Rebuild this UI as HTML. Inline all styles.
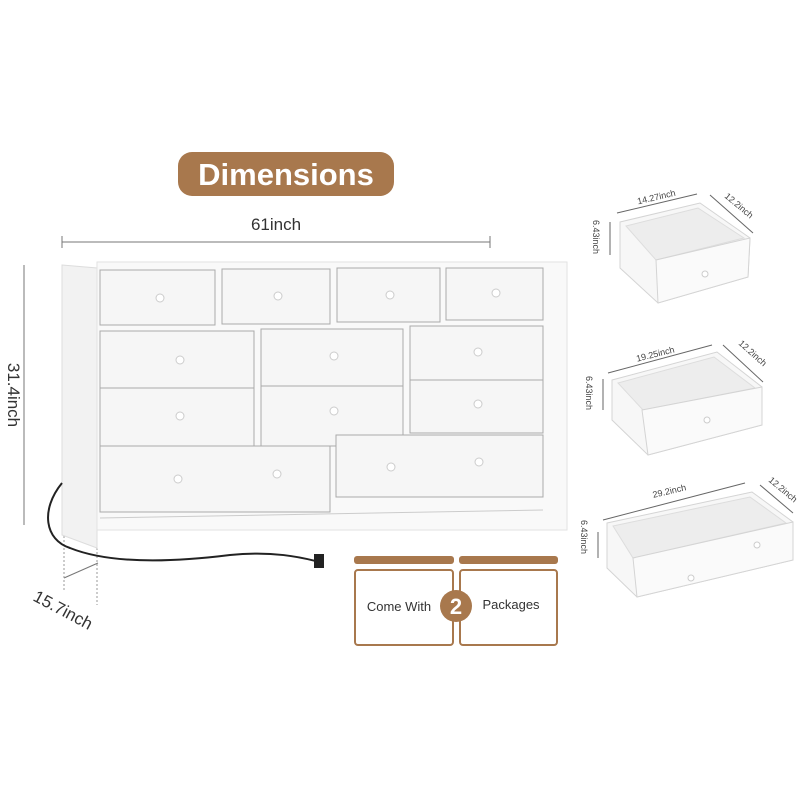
<!DOCTYPE html>
<html><head><style>
body{margin:0;background:#fff;}
svg{display:block;font-family:"Liberation Sans",sans-serif;}
</style></head><body>
<svg width="800" height="800" viewBox="0 0 800 800">
<rect width="800" height="800" fill="#fff"/>
<!-- title -->
<rect x="178" y="152" width="216" height="44" rx="14" fill="#a8784d"/>
<text x="286" y="185" font-size="31" font-weight="bold" fill="#fff" text-anchor="middle">Dimensions</text>
<text x="276" y="230" font-size="17" fill="#333" text-anchor="middle">61inch</text>
<line x1="62" y1="242" x2="490" y2="242" stroke="#777" stroke-width="1"/>
<line x1="62" y1="236" x2="62" y2="248" stroke="#777"/><line x1="490" y1="236" x2="490" y2="248" stroke="#777"/>
<!-- height -->
<line x1="24" y1="265" x2="24" y2="525" stroke="#777"/>
<text transform="translate(8,395) rotate(90)" font-size="17" fill="#333" text-anchor="middle">31.4inch</text>
<!-- depth -->
<line x1="64" y1="578" x2="98" y2="563" stroke="#777"/>
<line x1="64" y1="520" x2="64" y2="590" stroke="#999" stroke-dasharray="2,2"/>
<line x1="97" y1="520" x2="97" y2="605" stroke="#999" stroke-dasharray="2,2"/>
<text transform="translate(32,600) rotate(28)" font-size="17" fill="#333">15.7inch</text>
<!-- dresser -->
<polygon points="62,265 97,268 97,548 62,535" fill="#f2f2f2" stroke="#ddd"/>
<rect x="97" y="262" width="470" height="268" fill="#f9f9f9" stroke="#e2e2e2"/>
<g fill="#f6f6f6" stroke="#aaa" stroke-width="1">
<rect x="100" y="270" width="115" height="55"/><rect x="222" y="269" width="108" height="55"/><rect x="337" y="268" width="103" height="54"/><rect x="446" y="268" width="97" height="52"/>
<rect x="100" y="331" width="154" height="58"/><rect x="261" y="329" width="142" height="57"/><rect x="410" y="326" width="133" height="54"/>
<rect x="100" y="388" width="154" height="60"/><rect x="261" y="386" width="142" height="60"/><rect x="410" y="380" width="133" height="53"/>
<rect x="100" y="446" width="230" height="66"/><rect x="336" y="435" width="207" height="62"/>
</g>
<line x1="100" y1="518" x2="543" y2="510" stroke="#ccc"/>
<g fill="#fff" stroke="#ccc">
<circle cx="160" cy="298" r="4"/><circle cx="278" cy="296" r="4"/><circle cx="390" cy="295" r="4"/><circle cx="496" cy="293" r="4"/>
<circle cx="180" cy="360" r="4"/><circle cx="334" cy="356" r="4"/><circle cx="478" cy="352" r="4"/>
<circle cx="180" cy="416" r="4"/><circle cx="334" cy="411" r="4"/><circle cx="478" cy="404" r="4"/>
<circle cx="178" cy="479" r="4"/><circle cx="277" cy="474" r="4"/><circle cx="391" cy="467" r="4"/><circle cx="479" cy="462" r="4"/>
</g>
<!-- cord -->
<path d="M62,483 C40,510 45,540 70,548 C100,560 150,565 230,555 C280,550 310,560 320,562" fill="none" stroke="#222" stroke-width="2"/>
<rect x="314" y="554" width="10" height="14" fill="#222"/>
<!-- packages -->
<rect x="354" y="556" width="100" height="8" rx="3" fill="#a8784d"/>
<rect x="459" y="556" width="99" height="8" rx="3" fill="#a8784d"/>
<rect x="355" y="570" width="98" height="75" rx="3" fill="#fff" stroke="#a8784d" stroke-width="2"/>
<rect x="460" y="570" width="97" height="75" rx="3" fill="#fff" stroke="#a8784d" stroke-width="2"/>
<circle cx="456" cy="606" r="16" fill="#a8784d"/>
<text x="456" y="614" font-size="22" font-weight="bold" fill="#fff" text-anchor="middle">2</text>
<text x="399" y="611" font-size="13" fill="#333" text-anchor="middle">Come With</text>
<text x="511" y="609" font-size="13" fill="#333" text-anchor="middle">Packages</text>

<!-- drawer 1 -->
<polygon points="620,222 700,203 750,238 748,277 658,303 620,268" fill="#f7f7f7" stroke="#d4d4d4"/>
<polygon points="626,226 698,208 744,238 656,260" fill="#ededed" stroke="#ddd"/>
<polygon points="656,260 750,238 748,277 658,303" fill="#fafafa" stroke="#d4d4d4"/>
<circle cx="705" cy="274" r="3" fill="#fff" stroke="#ccc"/>
<line x1="617" y1="213" x2="697" y2="194" stroke="#666"/>
<text transform="translate(657,200) rotate(-13)" font-size="9" fill="#444" text-anchor="middle">14.27inch</text>
<line x1="710" y1="195" x2="753" y2="233" stroke="#666"/>
<text transform="translate(724,197) rotate(40)" font-size="9" fill="#444">12.2inch</text>
<line x1="610" y1="222" x2="610" y2="255" stroke="#666"/>
<text transform="translate(593,220) rotate(90)" font-size="9" fill="#444">6.43inch</text>

<!-- drawer 2 -->
<polygon points="612,380 717,352 762,387 762,425 648,455 612,420" fill="#f7f7f7" stroke="#d4d4d4"/>
<polygon points="618,383 714,357 755,388 643,410" fill="#ededed" stroke="#ddd"/>
<polygon points="642,410 762,387 762,425 648,455" fill="#fafafa" stroke="#d4d4d4"/>
<circle cx="707" cy="420" r="3" fill="#fff" stroke="#ccc"/>
<line x1="608" y1="373" x2="712" y2="345" stroke="#666"/>
<text transform="translate(656,357) rotate(-14)" font-size="9" fill="#444" text-anchor="middle">19.25inch</text>
<line x1="723" y1="345" x2="763" y2="382" stroke="#666"/>
<text transform="translate(738,344) rotate(42)" font-size="9" fill="#444">12.2inch</text>
<line x1="603" y1="379" x2="603" y2="410" stroke="#666"/>
<text transform="translate(586,376) rotate(90)" font-size="9" fill="#444">6.43inch</text>

<!-- drawer 3 -->
<polygon points="607,523 752,492 793,522 793,560 637,597 607,568" fill="#f7f7f7" stroke="#d4d4d4"/>
<polygon points="613,526 750,497 786,523 633,558" fill="#ededed" stroke="#ddd"/>
<polygon points="633,558 793,522 793,560 637,597" fill="#fafafa" stroke="#d4d4d4"/>
<circle cx="691" cy="578" r="3" fill="#fff" stroke="#ccc"/>
<circle cx="757" cy="545" r="3" fill="#fff" stroke="#ccc"/>
<line x1="603" y1="520" x2="745" y2="483" stroke="#666"/>
<text transform="translate(670,494) rotate(-13)" font-size="9" fill="#444" text-anchor="middle">29.2inch</text>
<line x1="760" y1="485" x2="793" y2="513" stroke="#666"/>
<text transform="translate(768,481) rotate(40)" font-size="9" fill="#444">12.2inch</text>
<line x1="598" y1="532" x2="598" y2="558" stroke="#666"/>
<text transform="translate(581,520) rotate(90)" font-size="9" fill="#444">6.43inch</text>
</svg>
</body></html>
